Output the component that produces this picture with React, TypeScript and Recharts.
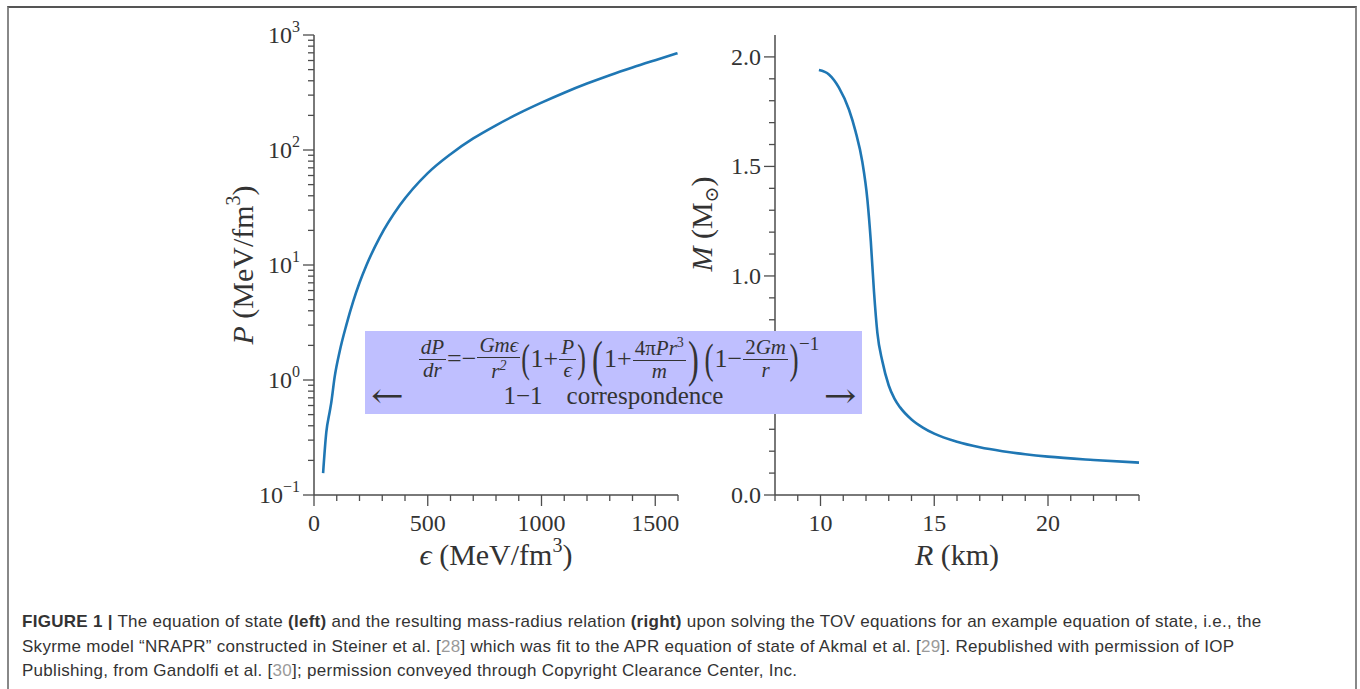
import React from "react";
import { Line, LineChart, XAxis, YAxis } from "recharts";

// equation of state (left panel)
const epsilon = [40, 54, 69, 75, 91, 113, 142, 172, 200, 231, 289, 377, 500, 600, 700, 800, 900, 1000, 1100, 1200, 1300, 1400, 1500, 1598];
const pressure = [0.155, 0.35, 0.53, 0.62, 1.07, 1.78, 3.0, 4.8, 7.0, 10.0, 17.4, 33, 63, 92, 126, 164, 208, 258, 315, 378, 447, 522, 604, 695];

// mass-radius relation (right panel)
const radius = [9.93, 10.37, 10.81, 11.25, 11.54, 11.84, 12.06, 12.21, 12.35, 12.5, 12.72, 13.0, 13.25, 13.5, 14.0, 14.5, 15.0, 16.0, 17.0, 18.0, 19.0, 20.0, 22.0, 24.0];
const mass = [1.94, 1.92, 1.86, 1.76, 1.66, 1.52, 1.35, 1.16, 0.93, 0.74, 0.61, 0.5, 0.44, 0.4, 0.345, 0.308, 0.28, 0.243, 0.218, 0.2, 0.186, 0.175, 0.16, 0.148];

const epsTicks = [0, 100, 200, 300, 400, 500, 600, 700, 800, 900, 1000, 1100, 1200, 1300, 1400, 1500, 1600];
const epsLabelled = [0, 500, 1000, 1500];
const pTicks = [
  0.1, 0.2, 0.3, 0.4, 0.5, 0.6, 0.7, 0.8, 0.9,
  1, 2, 3, 4, 5, 6, 7, 8, 9,
  10, 20, 30, 40, 50, 60, 70, 80, 90,
  100, 200, 300, 400, 500, 600, 700, 800, 900,
  1000,
];
const rTicks = [8, 9, 10, 11, 12, 13, 14, 15, 16, 17, 18, 19, 20, 21, 22, 23, 24];
const rLabelled = [10, 15, 20];
const mTicks = [0, 0.1, 0.2, 0.3, 0.4, 0.5, 0.6, 0.7, 0.8, 0.9, 1, 1.1, 1.2, 1.3, 1.4, 1.5, 1.6, 1.7, 1.8, 1.9, 2.0];
const mMajor = [0, 0.5, 1, 1.5, 2];
// 0.5 sits under the equation box in the figure, so it carries no label
const mLabelled = [0, 1, 1.5, 2];

const eosData = epsilon.map((e, i) => ({ eps: e, p: pressure[i] }));
const mrData = radius.map((r, i) => ({ r, m: mass[i] }));

const SERIF = "'Liberation Serif', 'DejaVu Serif', serif";
const AXIS = "#4d4d4d";
const TEXT = "#333";
const BLUE = "#1f77b4";

const MAJOR_LEN = 11;
const MINOR_LEN = 6;

function inList(v: number, list: number[]) {
  return list.some((m) => Math.abs(m - v) < 1e-6);
}

const LogTick = (props: any) => {
  const { x, y, payload } = props;
  const v = payload.value;
  const lg = Math.log10(v);
  const e = Math.round(lg);
  const major = Math.abs(lg - e) < 1e-6;
  return (
    <g>
      <line x1={x} x2={x - (major ? MAJOR_LEN : MINOR_LEN)} y1={y} y2={y} stroke={AXIS} strokeWidth={1.3} />
      {major && (
        <text x={x - 14} y={y + 8} textAnchor="end" fontFamily={SERIF} fontSize={24} fill={TEXT}>
          10
          <tspan dy={-11} fontSize={16}>
            {e < 0 ? "\u2212" + -e : String(e)}
          </tspan>
        </text>
      )}
    </g>
  );
};

const makeBottomTick = (labelled: number[]) => (props: any) => {
  const { x, y, payload } = props;
  const isM = inList(payload.value, labelled);
  return (
    <g>
      <line x1={x} x2={x} y1={y} y2={y + (isM ? MAJOR_LEN : MINOR_LEN)} stroke={AXIS} strokeWidth={1.3} />
      {isM && (
        <text x={x} y={y + 36} textAnchor="middle" fontFamily={SERIF} fontSize={24} fill={TEXT}>
          {payload.value}
        </text>
      )}
    </g>
  );
};

const MassTick = (props: any) => {
  const { x, y, payload } = props;
  const isM = inList(payload.value, mMajor);
  return (
    <g>
      <line x1={x} x2={x - (isM ? MAJOR_LEN : MINOR_LEN)} y1={y} y2={y} stroke={AXIS} strokeWidth={1.3} />
      {inList(payload.value, mLabelled) && (
        <text x={x - 14} y={y + 8} textAnchor="end" fontFamily={SERIF} fontSize={24} fill={TEXT}>
          {payload.value.toFixed(1)}
        </text>
      )}
    </g>
  );
};

const EpsTick = makeBottomTick(epsLabelled);
const RTick = makeBottomTick(rLabelled);

function EosChart() {
  return (
    <LineChart width={500} height={580} data={eosData} margin={{ top: 35, right: 22, bottom: 0, left: 0 }}>
      <XAxis
        dataKey="eps"
        type="number"
        domain={[0, 1600]}
        ticks={epsTicks}
        interval={0}
        tick={EpsTick}
        tickSize={0}
        tickMargin={0}
        tickLine={false}
        height={85}
        axisLine={{ stroke: AXIS, strokeWidth: 1.5 }}
        label={{
          content: () => (
            <text x={296} y={565} textAnchor="middle" fontFamily={SERIF} fontSize={30} fill={TEXT}>
              <tspan fontStyle="italic">ϵ</tspan> (MeV/fm
              <tspan dy={-13} fontSize={20}>3</tspan>
              <tspan dy={13}>)</tspan>
            </text>
          ),
        }}
      />
      <XAxis xAxisId="top" orientation="top" type="number" domain={[0, 1600]} height={0} tick={false} tickLine={false} axisLine={{ stroke: AXIS, strokeWidth: 1.5 }} />
      <YAxis
        dataKey="p"
        scale="log"
        type="number"
        domain={[0.1, 1000]}
        allowDataOverflow
        ticks={pTicks}
        interval={0}
        tick={LogTick}
        tickSize={0}
        tickMargin={0}
        tickLine={false}
        width={114}
        axisLine={{ stroke: AXIS, strokeWidth: 1.5 }}
        label={{
          content: () => (
            <text
              x={0}
              y={0}
              transform="translate(53 265) rotate(-90)"
              textAnchor="middle"
              fontFamily={SERIF}
              fontSize={30}
              fill={TEXT}
            >
              <tspan fontStyle="italic">P</tspan> (MeV/fm
              <tspan dy={-13} fontSize={20}>3</tspan>
              <tspan dy={13}>)</tspan>
            </text>
          ),
        }}
      />
      <YAxis yAxisId="right" orientation="right" type="number" domain={[0, 1]} width={0} tick={false} tickLine={false} axisLine={{ stroke: AXIS, strokeWidth: 1.5 }} />
      <Line type="monotone" dataKey="p" stroke={BLUE} strokeWidth={2.6} dot={false} isAnimationActive={false} />
    </LineChart>
  );
}

function MassRadiusChart() {
  return (
    <LineChart width={480} height={580} data={mrData} margin={{ top: 35, right: 21, bottom: 0, left: 0 }}>
      <XAxis
        dataKey="r"
        type="number"
        domain={[8, 24]}
        ticks={rTicks}
        interval={0}
        tick={RTick}
        tickSize={0}
        tickMargin={0}
        tickLine={false}
        height={85}
        axisLine={{ stroke: AXIS, strokeWidth: 1.5 }}
        label={{
          content: () => (
            <text x={277} y={565} textAnchor="middle" fontFamily={SERIF} fontSize={30} fill={TEXT}>
              <tspan fontStyle="italic">R</tspan> (km)
            </text>
          ),
        }}
      />
      <XAxis xAxisId="top" orientation="top" type="number" domain={[8, 24]} height={0} tick={false} tickLine={false} axisLine={{ stroke: AXIS, strokeWidth: 1.5 }} />
      <YAxis
        dataKey="m"
        type="number"
        domain={[0, 2.1]}
        allowDataOverflow
        ticks={mTicks}
        interval={0}
        tick={MassTick}
        tickSize={0}
        tickMargin={0}
        tickLine={false}
        width={95}
        axisLine={{ stroke: AXIS, strokeWidth: 1.5 }}
        label={{
          content: () => (
            <text
              x={0}
              y={0}
              transform="translate(32 224) rotate(-90)"
              textAnchor="middle"
              fontFamily={SERIF}
              fontSize={30}
              fill={TEXT}
            >
              <tspan fontStyle="italic">M</tspan> (M
              <tspan dy={6} fontSize={19}>⊙</tspan>
              <tspan dy={-6}>)</tspan>
            </text>
          ),
        }}
      />
      <YAxis yAxisId="right" orientation="right" type="number" domain={[0, 1]} width={0} tick={false} tickLine={false} axisLine={{ stroke: AXIS, strokeWidth: 1.5 }} />
      <Line type="monotone" dataKey="m" stroke={BLUE} strokeWidth={2.6} dot={false} isAnimationActive={false} />
    </LineChart>
  );
}

const Frac = ({ num, den, size = 21 }: { num: React.ReactNode; den: React.ReactNode; size?: number }) => (
  <span style={{ display: "inline-flex", flexDirection: "column", alignItems: "center", fontSize: size, lineHeight: 0.95, margin: "0 1px" }}>
    <span style={{ padding: "0 2px 1px" }}>{num}</span>
    <span style={{ borderTop: "1px solid #333", padding: "1px 2px 0", alignSelf: "stretch", textAlign: "center" }}>{den}</span>
  </span>
);

const I = ({ children }: { children: React.ReactNode }) => <i>{children}</i>;

function EquationBox() {
  const paren = (ch: string, size: number) => (
    <span style={{ fontSize: size, lineHeight: 1, display: "inline-block", transform: "scaleX(0.65)", margin: "0 -2px" }}>{ch}</span>
  );
  return (
    <div
      style={{
        position: "absolute",
        left: 365,
        top: 331,
        width: 497,
        height: 83,
        background: "rgb(191,191,255)",
        fontFamily: SERIF,
        color: TEXT,
        zIndex: 5,
      }}
    >
      <div style={{ position: "absolute", left: 0, right: 0, top: 5, height: 46, display: "flex", justifyContent: "center", alignItems: "center", fontSize: 26, paddingLeft: 10 }}>
        <Frac num={<I>dP</I>} den={<I>dr</I>} />
        <span>=−</span>
        <Frac num={<I>Gmϵ</I>} den={<I>r<sup style={{ fontSize: 14 }}>2</sup></I>} />
        {paren("(", 40)}
        <span>1+</span>
        <Frac num={<I>P</I>} den={<I>ϵ</I>} />
        {paren(")", 40)}
        <span style={{ width: 5 }} />
        {paren("(", 50)}
        <span>1+</span>
        <Frac num={<span>4π<I>Pr</I><sup style={{ fontSize: 14 }}>3</sup></span>} den={<I>m</I>} />
        {paren(")", 50)}
        <span style={{ width: 5 }} />
        {paren("(", 42)}
        <span>1−</span>
        <Frac num={<span>2<I>Gm</I></span>} den={<I>r</I>} />
        {paren(")", 42)}
        <span style={{ fontSize: 19, alignSelf: "flex-start", marginTop: -3 }}>−1</span>
      </div>
      <span style={{ position: "absolute", left: 6, top: 47, fontFamily: "'DejaVu Serif', serif", fontSize: 34, lineHeight: "34px", transform: "scaleX(1.15)", transformOrigin: "left" }}>←</span>
      <span style={{ position: "absolute", right: 6, top: 47, fontFamily: "'DejaVu Serif', serif", fontSize: 34, lineHeight: "34px", transform: "scaleX(1.15)", transformOrigin: "right" }}>→</span>
      <div style={{ position: "absolute", left: 0, right: 0, top: 50, textAlign: "center", fontSize: 25, lineHeight: "30px" }}>
        1−1<span style={{ display: "inline-block", width: 24 }} />correspondence
      </div>
    </div>
  );
}

const Ref = ({ n }: { n: number }) => (
  <span>
    [<span style={{ color: "#9a9a9a" }}>{n}</span>]
  </span>
);

function Caption() {
  const line: React.CSSProperties = {
    position: "absolute",
    left: 22,
    whiteSpace: "nowrap",
    fontFamily: "'Liberation Sans', Arial, sans-serif",
    fontSize: 17,
    letterSpacing: 0.28,
    lineHeight: "20px",
    color: "#333",
  };
  return (
    <>
      <div style={{ ...line, top: 612 }}>
        <b>FIGURE 1 |</b> The equation of state <b>(left)</b> and the resulting mass-radius relation <b>(right)</b> upon
        solving the TOV equations for an example equation of state, i.e., the
      </div>
      <div style={{ ...line, top: 637 }}>
        Skyrme model “NRAPR” constructed in Steiner et al. <Ref n={28} /> which was fit to the APR equation of state of
        Akmal et al. <Ref n={29} />. Republished with permission of IOP
      </div>
      <div style={{ ...line, top: 661 }}>
        Publishing, from Gandolfi et al. <Ref n={30} />; permission conveyed through Copyright Clearance Center, Inc.
      </div>
    </>
  );
}

export default function App() {
  return (
    <div style={{ position: "relative", width: 1360, height: 689, overflow: "hidden", background: "#fff" }}>
      <style>{"body{margin:0}"}</style>
      <div
        style={{
          position: "absolute",
          left: 7,
          top: 6,
          width: 1346,
          height: 700,
          borderTop: "2px solid #555",
          borderLeft: "2px solid #888",
          borderRight: "2px solid #888",
        }}
      />
      <div style={{ position: "absolute", left: 200, top: 0 }}>
        <EosChart />
      </div>
      <div style={{ position: "absolute", left: 680, top: 0 }}>
        <MassRadiusChart />
      </div>
      <EquationBox />
      <Caption />
    </div>
  );
}
